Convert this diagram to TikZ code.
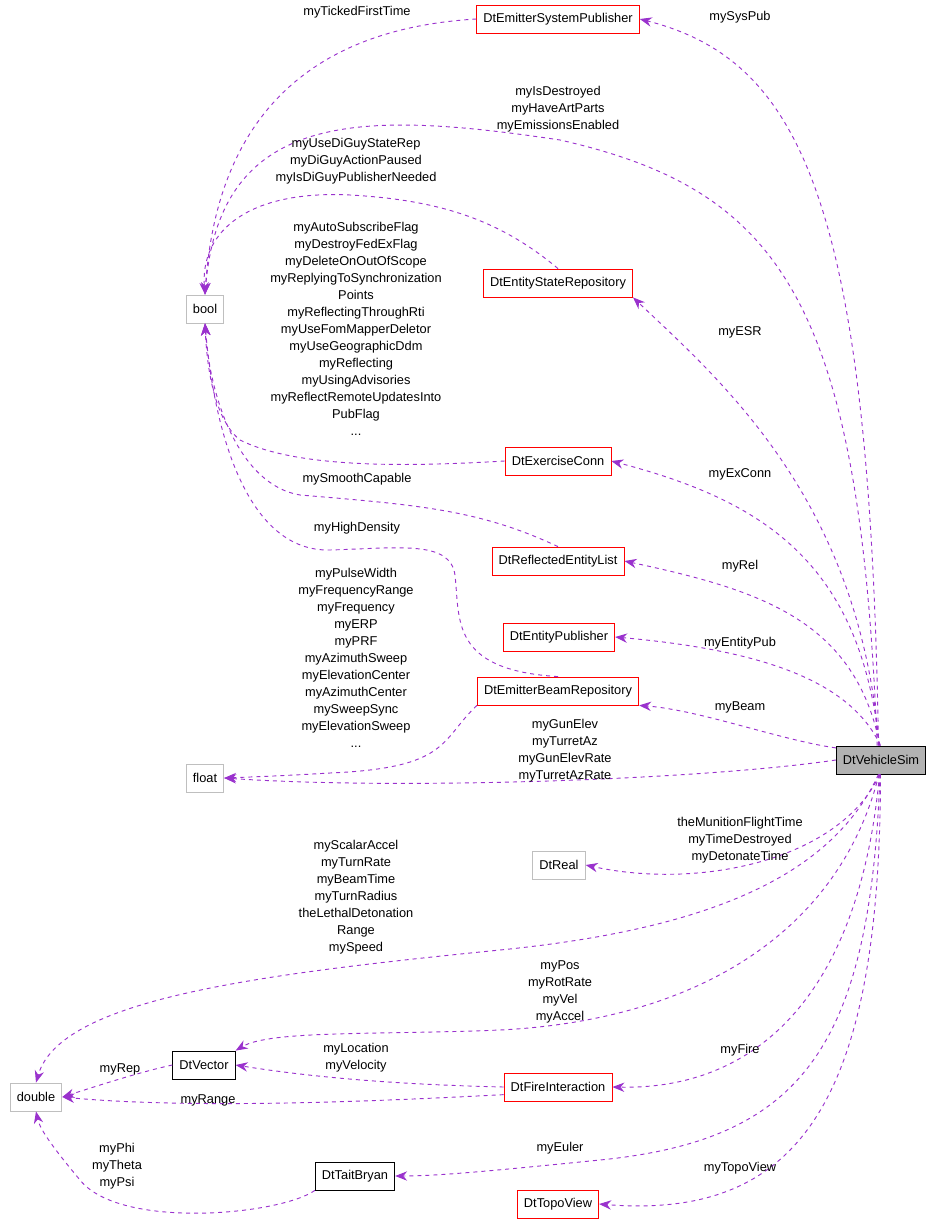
\documentclass[tikz,border=0pt]{standalone}
\usepackage{fontspec}
\setmainfont{Liberation Sans}
\usetikzlibrary{arrows.meta}
\definecolor{edgec}{HTML}{9A32CD}
\tikzset{
  cls/.style={draw=red,fill=white,minimum height=21pt,inner xsep=5pt,line width=0.6pt},
  ext/.style={draw=gray!50,fill=white,minimum height=21pt,inner xsep=5pt,line width=0.6pt},
  doc/.style={draw=black,fill=white,minimum height=21pt,inner xsep=5pt,line width=0.6pt},
  rel/.style={draw=edgec,dashed,line width=0.7pt,-{Stealth[length=9pt,width=7pt]}},
  lbl/.style={align=center,font=\fontsize{9.6}{12.75}\selectfont}
}
\begin{document}
\begin{tikzpicture}[x=0.75pt,y=-0.75pt,font=\fontsize{9.6}{11}\selectfont]
\useasboundingbox (0,0) rectangle (939,1226);
% classes
\node[cls] (esp) at (558,19) {DtEmitterSystemPublisher};
\node[ext] (bool) at (205,309) {bool};
\node[cls] (esr) at (558,283) {DtEntityStateRepository};
\node[cls] (exc) at (558,461) {DtExerciseConn};
\node[cls] (rel) at (558,561) {DtReflectedEntityList};
\node[cls] (epub) at (559,637) {DtEntityPublisher};
\node[cls] (beam) at (558,691) {DtEmitterBeamRepository};
\node[ext] (float) at (205,778) {float};
\node[draw=black,fill=gray!60,minimum height=21pt,inner xsep=5pt,line width=0.6pt] (vs) at (881,760) {DtVehicleSim};
\node[ext] (real) at (559,865) {DtReal};
\node[ext] (double) at (36,1097) {double};
\node[doc] (vec) at (204,1065) {DtVector};
\node[cls] (fire) at (558,1087) {DtFireInteraction};
\node[doc] (tait) at (355,1176) {DtTaitBryan};
\node[cls] (topo) at (558,1204) {DtTopoView};

% edges into bool
\draw[rel] (esp.west) .. controls (380,25) and (220,60) .. (bool.north);
\draw[rel] (vs.105) .. controls (860,300) and (780,190) .. (560,140)
  .. controls (360,110) and (220,110) .. (bool.north);
\draw[rel] (esr.north) .. controls (500,220) and (440,200) .. (350,195)
  .. controls (250,190) and (200,230) .. (bool.north);
\draw[rel] (exc.west) .. controls (420,466) and (300,470) .. (240,440)
  .. controls (215,420) and (207,370) .. (bool.south);
\draw[rel] (rel.north) .. controls (480,510) and (420,505) .. (300,495)
  .. controls (240,485) and (210,400) .. (bool.south);
\draw[rel] (beam.north) .. controls (450,670) and (460,620) .. (455,575)
  .. controls (450,540) and (400,548) .. (330,550)
  .. controls (250,552) and (215,440) .. (bool.south);
% edges into float
\draw[rel] (beam.south west) .. controls (440,740) and (450,768) .. (330,773)
  .. controls (280,776) and (250,777) .. (float.east);
\draw[rel] (vs.west) .. controls (700,780) and (400,790) .. (float.east);
% edges from vs
\draw[rel] (vs.100) .. controls (870,200) and (800,60) .. (esp.east);
\draw[rel] (vs.98) .. controls (860,500) and (720,380) .. (esr.south east);
\draw[rel] (vs.96) .. controls (860,560) and (760,500) .. (exc.east);
\draw[rel] (vs.94) .. controls (855,620) and (760,590) .. (rel.east);
\draw[rel] (vs.92) .. controls (850,680) and (760,650) .. (epub.east);
\draw[rel] (vs.165) .. controls (780,740) and (700,710) .. (beam.south east);
\draw[rel] (vs.-95) .. controls (840,860) and (700,890) .. (real.east);
\draw[rel] (vs.-100) .. controls (830,880) and (700,930) .. (500,950)
  .. controls (250,975) and (60,1000) .. (double.north);
\draw[rel] (vs.-98) .. controls (840,930) and (700,1020) .. (500,1030)
  .. controls (380,1035) and (270,1030) .. (vec.north east);
\draw[rel] (vs.-96) .. controls (860,990) and (760,1090) .. (fire.east);
\draw[rel] (vs.-94) .. controls (870,1050) and (800,1140) .. (600,1160)
  .. controls (500,1170) and (440,1176) .. (tait.east);
\draw[rel] (vs.-92) .. controls (880,1100) and (800,1220) .. (topo.east);
% inner edges
\draw[rel] (fire.west) .. controls (420,1085) and (330,1080) .. (vec.east);
\draw[rel] (fire.188) .. controls (400,1100) and (200,1110) .. (double.east);
\draw[rel] (vec.west) .. controls (140,1072) and (100,1085) .. (double.east);
\draw[rel] (tait.south west) .. controls (280,1215) and (120,1230) .. (80,1180)
  .. controls (55,1150) and (40,1130) .. (double.south);

% labels
\node[lbl] (l1) at (357,12) {myTickedFirstTime};
\node[lbl] (l2) at (558,109) {myIsDestroyed\\myHaveArtParts\\myEmissionsEnabled};
\node[lbl] (l3) at (356,161) {myUseDiGuyStateRep\\myDiGuyActionPaused\\myIsDiGuyPublisherNeeded};
\node[lbl] (l4) at (356,329) {myAutoSubscribeFlag\\myDestroyFedExFlag\\myDeleteOnOutOfScope\\myReplyingToSynchronization\\Points\\myReflectingThroughRti\\myUseFomMapperDeletor\\myUseGeographicDdm\\myReflecting\\myUsingAdvisories\\myReflectRemoteUpdatesInto\\PubFlag\\...};
\node[lbl] (l5) at (357,479) {mySmoothCapable};
\node[lbl] (l6) at (357,528) {myHighDensity};
\node[lbl] (l7) at (356,658) {myPulseWidth\\myFrequencyRange\\myFrequency\\myERP\\myPRF\\myAzimuthSweep\\myElevationCenter\\myAzimuthCenter\\mySweepSync\\myElevationSweep\\...};
\node[lbl] (l8) at (565,751) {myGunElev\\myTurretAz\\myGunElevRate\\myTurretAzRate};
\node[lbl] (l9) at (740,17) {mySysPub};
\node[lbl] (l10) at (740,332) {myESR};
\node[lbl] (l11) at (740,474) {myExConn};
\node[lbl] (l12) at (740,566) {myRel};
\node[lbl] (l13) at (740,643) {myEntityPub};
\node[lbl] (l14) at (740,707) {myBeam};
\node[lbl] (l15) at (740,840) {theMunitionFlightTime\\myTimeDestroyed\\myDetonateTime};
\node[lbl] (l16) at (356,897) {myScalarAccel\\myTurnRate\\myBeamTime\\myTurnRadius\\theLethalDetonation\\Range\\mySpeed};
\node[lbl] (l17) at (560,992) {myPos\\myRotRate\\myVel\\myAccel};
\node[lbl] (l18) at (356,1058) {myLocation\\myVelocity};
\node[lbl] (l19) at (120,1069) {myRep};
\node[lbl] (l20) at (208,1100) {myRange};
\node[lbl] (l21) at (740,1050) {myFire};
\node[lbl] (l22) at (117,1166) {myPhi\\myTheta\\myPsi};
\node[lbl] (l23) at (560,1148) {myEuler};
\node[lbl] (l24) at (740,1168) {myTopoView};
\end{tikzpicture}
\end{document}
